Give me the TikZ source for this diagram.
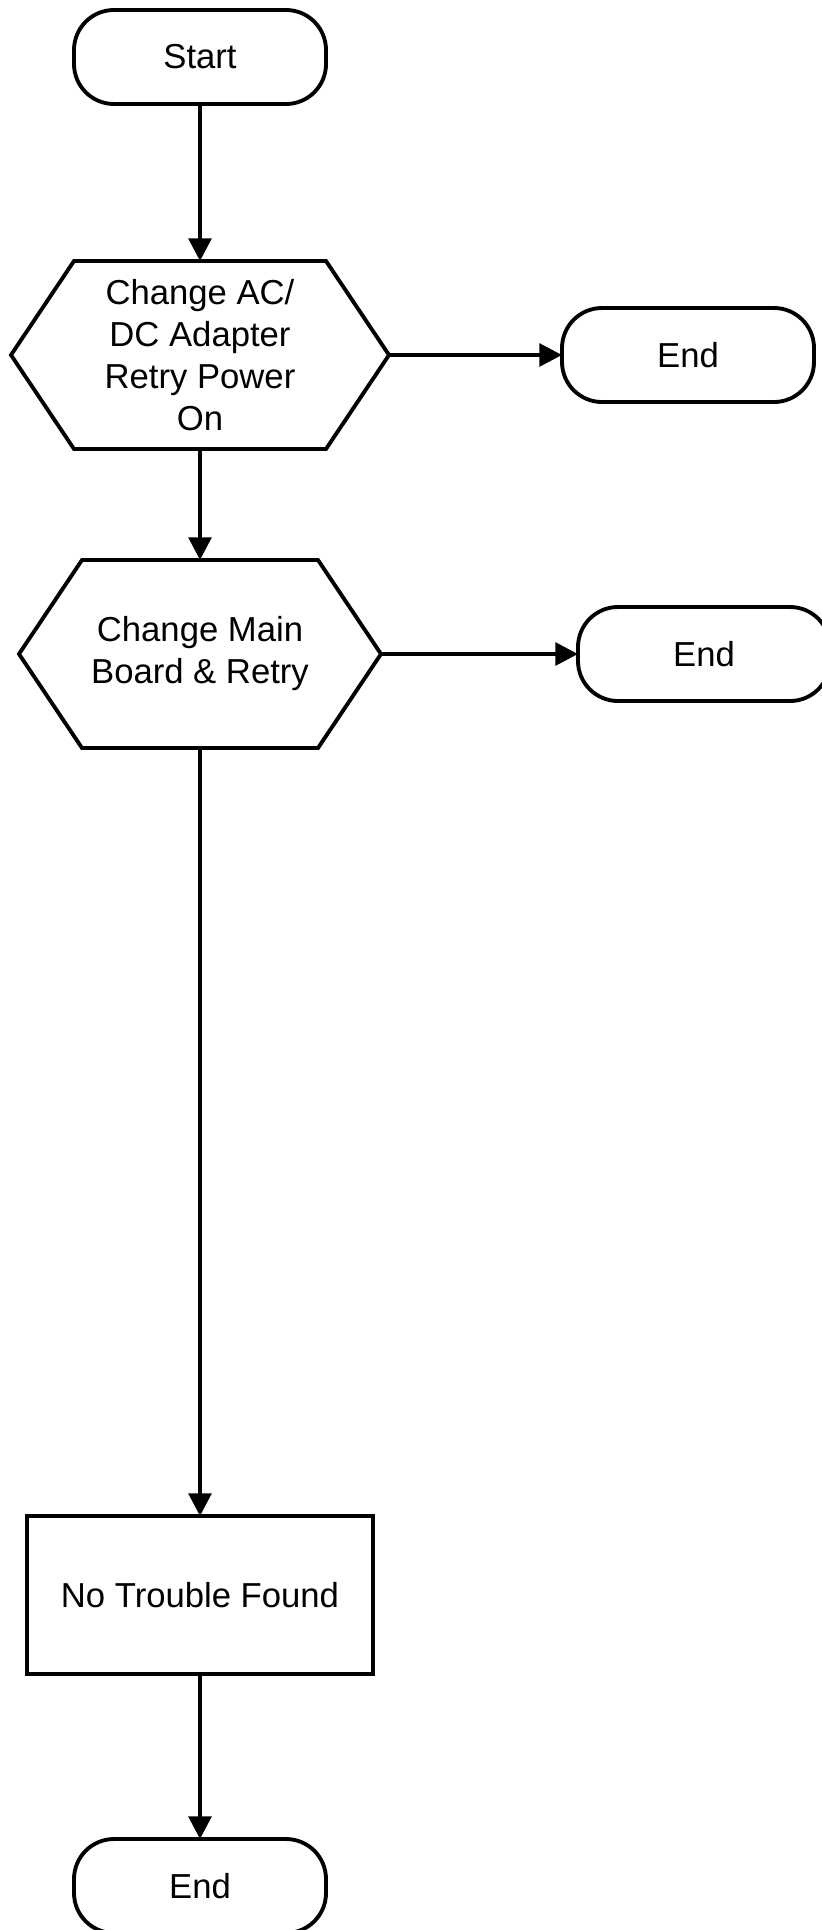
\documentclass[tikz,border=0pt]{standalone}
\usepackage{fontspec}
\setmainfont{Liberation Sans}
\usetikzlibrary{arrows.meta, positioning, calc}

\begin{document}
\begin{tikzpicture}[
  x=0.75pt, y=-0.75pt,
  font=\fontsize{26}{31.5}\selectfont,
  terminale/.style={draw=black, line width=2.9pt, rounded corners=30pt, minimum width=189pt,
                    minimum height=70.5pt, inner sep=0pt, outer sep=0pt},
  esagono/.style={minimum width=#1, minimum height=141pt, align=center, inner sep=0pt, outer sep=0pt},
  blocco/.style={draw=black, line width=2.9pt, minimum width=259.5pt, minimum height=118.5pt,
                 align=center, inner sep=0pt, outer sep=0pt},
  freccia/.style={draw=black, line width=2.9pt, -{Triangle[length=17pt,width=17pt]}}
]
\useasboundingbox (0,0) rectangle (821,1930);

\node[terminale] (inizio) at (200,57) {Start};
\node[esagono=283.5pt] (adattatore) at (200,355) {Change AC/\\DC Adapter\\Retry Power\\On};
\node[terminale] (fine1) at (688,355) {End};
\node[esagono=271.5pt] (scheda) at (200,654) {Change Main\\Board \& Retry};
\node[terminale] (fine2) at (704,654) {End};
\node[blocco] (ntf) at (200,1595) {No Trouble Found};
\node[terminale] (fine3) at (200,1886) {End};

% contorno esagoni
\foreach \h in {adattatore, scheda} {
  \draw[line width=2.9pt, line join=miter]
    (\h.west) -- ($(\h.north west)+(63,0)$) -- ($(\h.north east)+(-63,0)$) -- (\h.east)
    -- ($(\h.south east)+(-63,0)$) -- ($(\h.south west)+(63,0)$) -- cycle;
}

\draw[freccia] (inizio.south) -- (adattatore.north);
\draw[freccia] (adattatore.east) -- (fine1.west);
\draw[freccia] (adattatore.south) -- (scheda.north);
\draw[freccia] (scheda.east) -- (fine2.west);
\draw[freccia] (scheda.south) -- (ntf.north);
\draw[freccia] (ntf.south) -- (fine3.north);

\end{tikzpicture}
\end{document}
